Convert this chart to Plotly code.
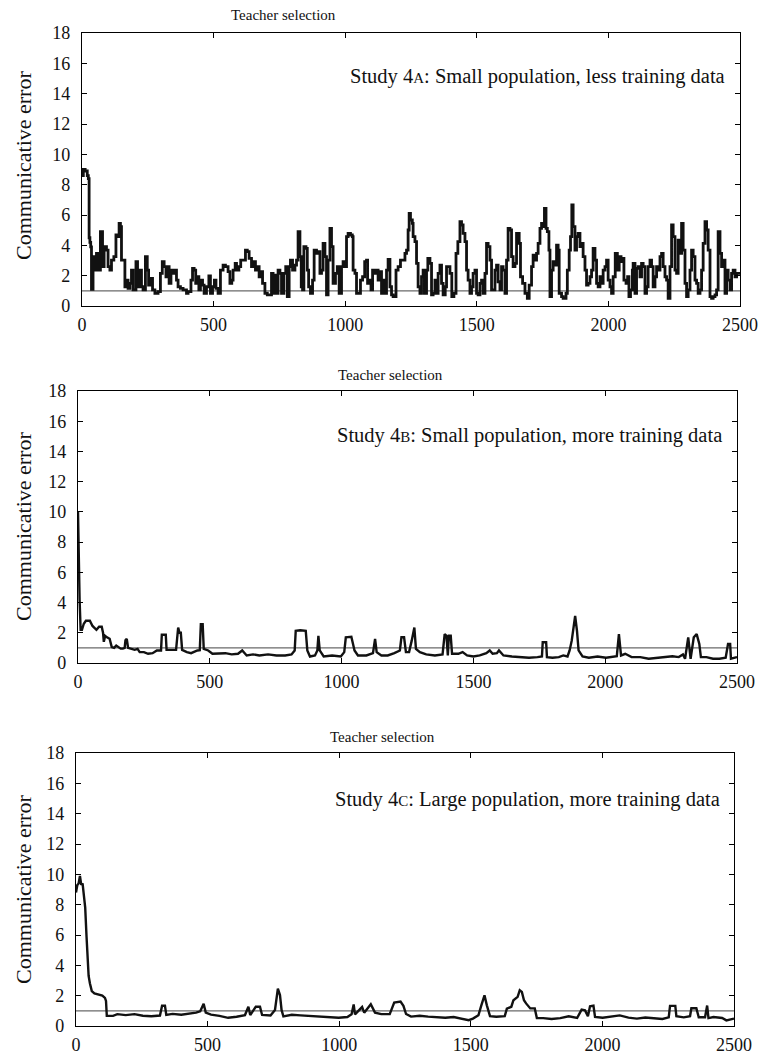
import plotly.graph_objects as go

# ---------------- data ----------------
x_ticks = [0, 500, 1000, 1500, 2000, 2500]
y_ticks = [0, 2, 4, 6, 8, 10, 12, 14, 16, 18]
reference_level = 1.0
x_span = [0, 2500]
panel_title = "Teacher selection"
y_label = "Communicative error"
study_labels = [
    'Study 4<span style="font-size:15px">A</span>: Small population, less training data',
    'Study 4<span style="font-size:15px">B</span>: Small population, more training data',
    'Study 4<span style="font-size:15px">C</span>: Large population, more training data',
]

# Study 4A
gen_a = [0, 5, 12, 20, 24, 27, 30, 33, 36, 42, 49, 55, 61, 70, 78, 84, 93, 99, 106, 112,
         121, 129, 134, 141, 146, 150, 156, 163, 169, 175, 182, 188, 194, 205, 211, 220, 226, 232, 241, 248,
         253, 260, 268, 277, 289, 298, 305, 312, 319, 325, 331, 338, 346, 353, 359, 365, 374, 384, 397, 403,
         414, 420, 426, 432, 438, 444, 450, 458, 464, 473, 482, 488, 496, 503, 509, 517, 526, 536, 545, 555,
         562, 569, 574, 582, 587, 596, 603, 612, 621, 628, 635, 644, 650, 659, 667, 673, 680, 686, 695, 704,
         714, 720, 726, 733, 739, 745, 752, 758, 767, 774, 780, 787, 792, 800, 809, 815,
         821, 828, 833, 838, 843, 851, 856, 861, 868, 876, 882, 891, 897, 904, 910, 916, 923, 929, 935, 942,
         948, 954, 963, 970, 977, 986, 992, 1000, 1005, 1011, 1020, 1027, 1030, 1037, 1043, 1051, 1058, 1066,
         1074, 1081, 1085, 1091, 1098, 1104, 1112, 1119, 1125, 1132, 1138, 1144, 1151, 1157, 1163, 1170, 1176,
         1182, 1193, 1201, 1210, 1218, 1227, 1233, 1239, 1243, 1248, 1255, 1258, 1265, 1271, 1277, 1284, 1290,
         1296, 1301, 1309, 1314, 1322, 1328, 1334, 1341, 1347, 1353, 1360, 1366, 1372, 1380, 1385, 1393, 1398,
         1405, 1413, 1421, 1428, 1436, 1442, 1448, 1455, 1461, 1467, 1474, 1480, 1486, 1493, 1499, 1505, 1512,
         1518, 1524, 1531, 1537, 1543, 1550, 1556, 1562, 1569, 1575, 1581, 1588, 1594, 1600, 1607, 1613, 1619,
         1626, 1632, 1638, 1645, 1651,
         1661, 1666, 1674, 1683, 1692, 1699, 1708, 1714, 1721, 1727, 1733, 1740, 1746, 1752, 1757, 1763, 1768,
         1774, 1778, 1784, 1790, 1797, 1803, 1809, 1813, 1822, 1828, 1839, 1844, 1851, 1856, 1861, 1866, 1873,
         1879, 1885, 1892, 1898, 1904, 1911, 1917, 1923, 1930, 1936, 1942, 1949, 1955, 1961, 1968, 1974, 1980,
         1987, 1993, 1999, 2006, 2012, 2018, 2026, 2034, 2041, 2048, 2054, 2059, 2067, 2073, 2078, 2084, 2091,
         2094, 2101, 2107, 2113, 2120, 2126, 2132, 2139, 2145, 2151, 2158, 2164, 2170, 2177, 2183, 2189, 2196,
         2202, 2208, 2215, 2221, 2227, 2234, 2240, 2246, 2253, 2259, 2265, 2272, 2278, 2284, 2291, 2297, 2303,
         2310, 2316, 2322, 2329, 2335, 2341, 2348, 2354, 2360, 2367, 2373, 2379, 2386, 2392, 2398, 2405, 2411,
         2417, 2424, 2430, 2436, 2443, 2449, 2455, 2462, 2468, 2474, 2481, 2487, 2500]
err_a = [8.6, 9.0, 8.9, 8.6, 8.4, 4.5, 4.2, 3.9, 1.1, 3.25, 2.37, 3.47, 2.37, 4.9, 2.59, 3.91, 3.69, 2.59, 2.37, 3.03,
         3.25, 4.68, 4.57, 5.45, 5.23, 3.03, 3.03, 1.27, 1.71, 1.16, 1.49, 2.37, 1.06, 2.92, 1.27, 2.37, 1.27, 1.06, 3.25, 2.37,
         1.38, 1.82, 1.06, 0.84, 0.95, 2.15, 2.92, 2.59, 1.93, 2.59, 1.49, 2.37, 2.15, 2.37, 1.71, 1.27, 1.16, 1.06, 0.84, 0.95,
         1.71, 2.48, 2.37, 1.49, 1.93, 1.06, 1.71, 1.38, 0.84, 1.27, 1.98, 0.84, 1.27, 1.71, 1.16, 0.84, 2.37, 2.7, 2.59, 2.26,
         1.49, 1.71, 2.37, 2.81, 2.37, 2.59, 3.03, 3.03, 3.69, 3.58, 3.14, 2.59, 2.92, 2.37, 2.59, 1.93, 2.26, 1.49, 0.84, 0.73,
         0.73, 2.15, 0.84, 2.04, 0.84, 2.37, 2.15, 0.84, 2.15, 2.59, 0.62, 2.59, 3.03, 2.37, 2.7, 3.03,
         4.9, 3.25, 1.27, 1.06, 3.91, 3.8, 2.37, 1.27, 0.84, 1.71, 3.69, 3.47, 3.58, 2.15, 2.37, 4.13, 3.25, 0.73, 3.03, 5.12,
         3.91, 1.49, 2.15, 2.59, 0.84, 2.59, 2.92, 2.59, 4.57, 4.79, 4.68, 4.57, 2.37, 2.15, 0.84, 0.84, 1.71, 1.93,
         2.92, 3.03, 1.49, 1.71, 1.06, 2.37, 2.15, 2.37, 1.71, 2.26, 0.84, 1.71, 0.84, 2.37, 3.08, 1.27, 0.73,
         0.62, 2.37, 2.59, 3.03, 3.03, 3.47, 3.69, 5.01, 6.11, 5.67, 5.45, 4.57, 4.24, 2.81, 1.27, 0.84, 1.93,
         2.37, 0.84, 2.37, 3.14, 2.81, 0.73, 0.84, 1.71, 0.84, 2.15, 2.7, 1.49, 0.73, 1.27, 2.59, 2.59, 2.15,
         0.62, 0.84, 3.47, 4.24, 5.56, 5.34, 4.79, 4.24, 2.37, 1.71, 0.84, 1.27, 2.15, 2.37, 0.84, 0.73, 1.49,
         1.71, 0.84, 2.15, 4.13, 3.91, 3.03, 1.06, 1.06, 2.37, 2.7, 1.6, 1.06, 2.59, 2.37, 0.84, 3.03, 5.12,
         5.01, 3.25, 2.59, 2.81, 4.79,
         4.13, 1.93, 1.49, 0.84, 0.51, 1.38, 2.59, 3.36, 3.03, 3.47, 4.13, 5.12, 5.45, 5.23, 6.44, 5.12, 4.9,
         3.69, 0.62, 2.37, 2.92, 2.7, 4.02, 3.69, 0.84, 0.62, 0.51, 0.84, 2.37, 3.69, 4.57, 6.66, 5.23, 3.69,
         4.57, 4.79, 3.91, 4.13, 3.25, 2.37, 1.38, 1.49, 1.93, 2.37, 3.8, 3.03, 1.49, 1.27, 1.93, 1.49, 2.37,
         2.59, 3.03, 1.71, 1.27, 0.84, 1.93, 3.47, 2.37, 3.25, 2.92, 3.14, 1.71, 1.49, 1.93, 0.62, 1.06, 2.37,
         2.81, 0.84, 2.48, 2.59, 1.93, 2.81, 2.59, 0.84, 1.27, 2.59, 3.03, 2.59, 1.27, 1.93, 2.59, 2.37, 3.25,
         3.47, 2.59, 1.93, 1.71, 0.51, 2.59, 5.34, 4.57, 2.37, 2.15, 4.35, 3.47, 5.45, 3.69, 1.49, 0.62, 1.06,
         2.37, 3.69, 3.25, 1.71, 1.49, 0.84, 1.06, 2.37, 4.13, 5.56, 5.01, 3.69, 0.62, 0.51, 0.62, 0.73, 1.06,
         4.9, 3.47, 2.59, 3.03, 0.84, 2.37, 1.71, 1.06, 2.15, 2.37, 1.93, 2.15, 2.2]

# Study 4B
gen_b = [0, 3, 6, 10, 15, 22, 30, 45, 55, 70, 80, 90, 95, 98, 103, 110, 120, 128, 137, 145,
         153, 162, 170, 177, 180, 185, 190, 202, 215, 226, 234, 250, 266, 283, 299, 315, 318, 333, 336, 352,
         372, 380, 385, 390, 395, 413, 429, 453, 462, 466, 473, 477, 494, 510, 534, 559, 583, 607, 623, 640,
         664, 688, 721, 753, 786, 810, 822, 826, 843, 864, 870, 880, 899, 908, 912, 917, 932, 964, 997, 1010,
         1016, 1037, 1049, 1062, 1094, 1119, 1127, 1133, 1151, 1175, 1200, 1221, 1227, 1237, 1244, 1256, 1266,
         1276, 1282, 1297, 1321, 1354, 1383, 1391, 1398, 1403, 1407, 1414, 1419, 1443, 1459, 1476, 1500, 1524,
         1549, 1562, 1573, 1589, 1597, 1614, 1646, 1678, 1711, 1743, 1760, 1763, 1776, 1779, 1800, 1824, 1841,
         1857, 1865, 1873, 1878, 1886, 1893, 1899, 1914, 1938, 1971, 2003, 2044, 2052, 2060, 2076, 2100, 2133,
         2165, 2198, 2230, 2255, 2279, 2295, 2303, 2315, 2324, 2336, 2347, 2357, 2363, 2384, 2409, 2433, 2457,
         2466, 2474, 2477, 2500]
err_b = [10.0, 6.0, 4.2, 2.2, 2.2, 2.6, 2.8, 2.8, 2.45, 2.2, 2.4, 2.4, 2.0, 1.4, 1.8, 1.7, 1.6, 1.05, 1.0, 1.15,
         1.05, 0.95, 0.95, 1.0, 1.5, 1.6, 1.0, 0.93, 0.87, 0.93, 0.72, 0.72, 0.61, 0.65, 0.83, 0.83, 1.87, 1.87, 0.87, 0.87,
         0.87, 2.35, 2.0, 2.0, 0.87, 0.72, 0.65, 0.83, 0.85, 2.57, 2.57, 0.93, 0.83, 0.61, 0.61, 0.65, 0.57, 0.61, 0.83, 0.5,
         0.57, 0.5, 0.57, 0.5, 0.5, 0.57, 0.83, 2.13, 2.17, 2.13, 0.83, 0.43, 0.5, 0.83, 1.8, 0.83, 0.43, 0.5, 0.43, 0.72,
         1.7, 1.74, 0.83, 0.5, 0.5, 0.65, 1.59, 0.72, 0.5, 0.5, 0.65, 0.83, 1.7, 1.7, 0.72, 0.72, 1.48,
         2.35, 0.93, 0.72, 0.57, 0.5, 0.57, 1.91, 1.8, 0.5, 1.8, 1.8, 0.61, 0.61, 0.72, 0.5, 0.43, 0.5,
         0.65, 0.83, 0.61, 0.65, 0.83, 0.5, 0.43, 0.39, 0.35, 0.39, 0.43, 1.37, 1.37, 0.39, 0.35, 0.39, 0.5,
         0.43, 0.83, 1.48, 2.13, 3.11, 2.13, 0.83, 0.43, 0.35, 0.43, 0.35, 0.45, 1.91, 0.5, 0.61, 0.39, 0.39,
         0.28, 0.35, 0.39, 0.45, 0.39, 0.57, 0.28, 1.7, 0.28, 1.7, 1.91, 1.26, 0.39, 0.39, 0.28, 0.28, 0.35,
         1.26, 1.26, 0.28, 0.39]

# Study 4C
gen_c = [0, 5, 10, 15, 20, 25, 30, 35, 40, 44, 48, 53, 60, 70, 85, 100, 110, 114, 117, 141,
         157, 189, 222, 254, 286, 319, 327, 338, 343, 367, 400, 432, 456, 472, 485, 493, 513, 545, 578, 610,
         642, 655, 662, 683, 699, 707, 739, 756, 762, 767, 775, 781, 788, 820, 853, 901, 934, 966, 998, 1031,
         1047, 1055, 1060, 1087, 1095, 1120, 1128, 1136, 1160, 1192, 1209, 1233, 1244, 1254, 1273, 1306, 1338,
         1370, 1403, 1435, 1468, 1492, 1508, 1529, 1540, 1552, 1561, 1573, 1597, 1629, 1637, 1654, 1662, 1678,
         1686, 1694, 1702, 1710, 1726, 1743, 1751, 1775, 1807, 1840, 1872, 1904, 1921, 1934, 1945, 1953, 1966,
         1972, 2001, 2034, 2066, 2099, 2131, 2163, 2196, 2228, 2252, 2257, 2277, 2281, 2309, 2333, 2338, 2357,
         2366, 2390, 2398, 2403, 2422, 2455, 2471, 2500]
err_c = [8.8, 9.3, 9.4, 9.9, 9.3, 9.4, 8.6, 7.8, 5.9, 4.6, 3.3, 2.8, 2.3, 2.15, 2.1, 2.0, 1.85, 1.65, 0.67, 0.67,
         0.78, 0.72, 0.78, 0.68, 0.64, 0.69, 1.34, 1.34, 0.73, 0.8, 0.74, 0.81, 0.88, 0.97, 1.47, 0.88, 0.75, 0.67, 0.54, 0.61,
         0.72, 1.27, 0.72, 1.27, 1.27, 0.73, 0.69, 1.06, 2.04, 2.47, 2.04, 1.06, 0.63, 0.74, 0.7, 0.64, 0.58, 0.54, 0.54, 0.59,
         0.77, 1.42, 0.77, 1.25, 0.88, 1.43, 1.1, 0.88, 0.78, 0.78, 1.54, 1.61, 1.33, 0.79, 0.62, 0.68, 0.62,
         0.58, 0.54, 0.59, 0.48, 0.38, 0.49, 0.71, 1.36, 2.02, 1.36, 0.65, 0.61, 0.65, 1.15, 1.27, 1.7, 1.92,
         2.36, 2.25, 1.7, 1.49, 1.16, 1.16, 0.52, 0.52, 0.46, 0.52, 0.64, 0.53, 1.08, 1.03, 0.64, 1.3, 1.34,
         0.6, 0.54, 0.61, 0.7, 0.55, 0.49, 0.56, 0.5, 0.46, 0.57, 1.33, 1.33, 0.64, 0.57, 0.64, 1.17, 1.17,
         0.58, 0.58, 1.35, 0.52, 0.59, 0.53, 0.37, 0.49]

series = [(gen_a, err_a), (gen_b, err_b), (gen_c, err_c)]

# ---------------- layout geometry (pixels in a 760x1063 page) ----------------
W, H = 760, 1063
frames = [  # left, right, top, bottom
    (82, 740, 33, 306),
    (78, 737, 391, 663),
    (76, 734, 753, 1026),
]
title_pos = [(283, 15), (390, 375), (383, 737)]
label_pos = [(726, 76), (723, 436), (721, 799)]
ylabel_pos = [(23, 166), (23, 527), (23, 890)]
line_widths = [2.8, 2.4, 2.4]
line_shapes = ["hv", "linear", "linear"]

FONT = "Liberation Serif, Times New Roman, serif"
INK = "#111111"

fig = go.Figure()
annotations = []
for i, ((gx, ey), (l, r, t, b)) in enumerate(zip(series, frames)):
    n = "" if i == 0 else str(i + 1)
    xa, ya = "x" + n, "y" + n
    fig.add_trace(go.Scatter(x=x_span, y=[reference_level, reference_level], mode="lines",
                             line=dict(color="#6a6a6a", width=1.1), xaxis=xa, yaxis=ya,
                             showlegend=False, hoverinfo="skip"))
    fig.add_trace(go.Scatter(x=gx, y=ey, mode="lines",
                             line=dict(color=INK, width=line_widths[i], shape=line_shapes[i]),
                             xaxis=xa, yaxis=ya, showlegend=False))
    axcommon = dict(showline=True, linecolor="black", linewidth=1.2, mirror="ticks",
                    ticks="inside", ticklen=5, tickcolor="black", tickwidth=1,
                    showgrid=False, zeroline=False, automargin=False,
                    tickfont=dict(family=FONT, size=18, color=INK))
    fig.layout["xaxis" + n] = dict(axcommon, domain=[l / W, r / W], range=[0, 2500],
                                   tickvals=x_ticks, anchor=ya, ticklabelstandoff=2)
    fig.layout["yaxis" + n] = dict(axcommon, domain=[1 - b / H, 1 - t / H], range=[0, 18],
                                   tickvals=y_ticks, anchor=xa, ticklabelstandoff=7)
    tx, ty = title_pos[i]
    annotations.append(dict(text=panel_title, x=tx / W, y=1 - ty / H, xref="paper", yref="paper",
                            showarrow=False, xanchor="center", yanchor="middle",
                            font=dict(family=FONT, size=15, color=INK)))
    sx, sy = label_pos[i]
    annotations.append(dict(text=study_labels[i], x=sx / W, y=1 - sy / H, xref="paper", yref="paper",
                            showarrow=False, xanchor="right", yanchor="middle", borderpad=0,
                            font=dict(family=FONT, size=20.5, color=INK)))
    yx, yy = ylabel_pos[i]
    annotations.append(dict(text=y_label, x=yx / W, y=1 - yy / H, xref="paper", yref="paper",
                            showarrow=False, xanchor="center", yanchor="middle", textangle=-90,
                            font=dict(family=FONT, size=22, color=INK)))

fig.update_layout(width=W, height=H, margin=dict(l=0, r=0, t=0, b=0, pad=0, autoexpand=False),
                  paper_bgcolor="white", plot_bgcolor="white",
                  annotations=annotations, font=dict(family=FONT))
fig.write_html("out.html", config={"displayModeBar": False},
               post_script="document.body.style.margin='0px';document.body.style.overflow='hidden';")
